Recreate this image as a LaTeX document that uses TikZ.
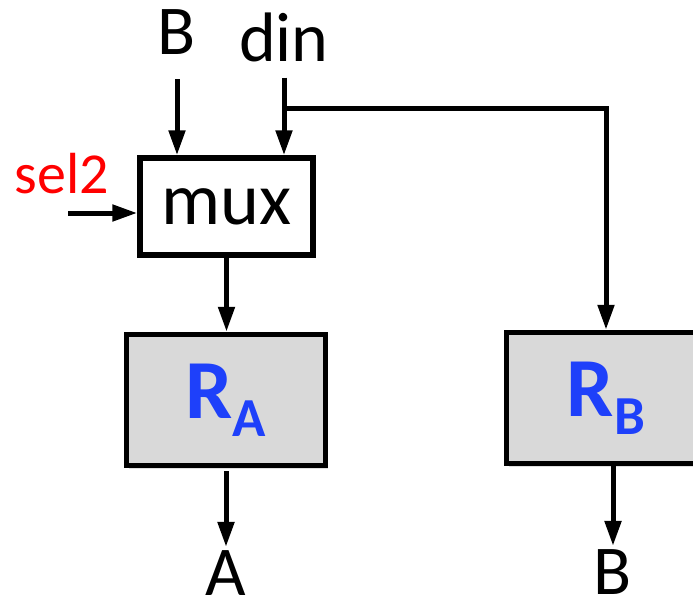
\documentclass[tikz,border=0pt]{standalone}
\usepackage{fontspec}
\setmainfont{Carlito}
\usetikzlibrary{arrows.meta,shadows}
\definecolor{regblue}{RGB}{30,64,250}
\definecolor{regfill}{RGB}{217,217,217}

\begin{document}
\begin{tikzpicture}[x=1pt,y=-1pt]

\tikzstyle{muxbox}=[rectangle, draw, line width=5.5pt, fill=white, minimum width=173pt, minimum height=97pt, font=\fontsize{74}{80}\selectfont, drop shadow={opacity=0.25, shadow xshift=2pt, shadow yshift=-3pt}]
\tikzstyle{regbox}=[rectangle, draw, line width=5.5pt, fill=regfill, minimum width=199pt, minimum height=131pt, text=regblue, font=\bfseries\fontsize{84}{90}\selectfont, drop shadow={opacity=0.25, shadow xshift=2pt, shadow yshift=-3pt}]
\tikzstyle{arrow}=[-{Triangle[length=25pt,width=16pt]}, line width=5pt]
\tikzstyle{lbl}=[inner sep=0pt, anchor=base, font=\fontsize{70}{80}\selectfont]
\newcommand{\regsub}[1]{\raisebox{-18pt}{\fontsize{55}{60}\selectfont #1}}

\useasboundingbox (0,0) rectangle (693,603);

% blocks
\node[muxbox] (mux) at (226.5,206.5) {mux};
\node[regbox] (ra) at (226,400) {R\regsub{A}};
\node[regbox] (rb) at (606,398) {R\regsub{B}};

% inputs and outputs
\node[lbl] (bin) at (177,54) {B};
\node[lbl] (din) at (284,61) {din};
\node[lbl, text=red, font=\fontsize{58}{64}\selectfont] (sel) at (62,193) {sel2};
\node[lbl] (aout) at (226,595) {A};
\node[lbl] (bout) at (613,594) {B};

\coordinate (ssrc) at (68,213);
\coordinate (tap) at (284,108);

\draw[arrow, shorten <=25pt] (bin.south) -- (bin.south |- mux.north);
\draw[arrow, shorten <=16pt] (din.south) -- (din.south |- mux.north);
\draw[arrow] (tap) -| (rb.north);
\draw[arrow] (ssrc) -- (ssrc -| mux.west);
\draw[arrow] (mux.south) -- (mux.south |- ra.north);
\draw[arrow, shorten <=3pt, shorten >=3pt] (ra.south) -- (aout.north);
\draw[arrow, shorten >=3pt] (rb.south -| bout) -- (bout.north);

\end{tikzpicture}
\end{document}
